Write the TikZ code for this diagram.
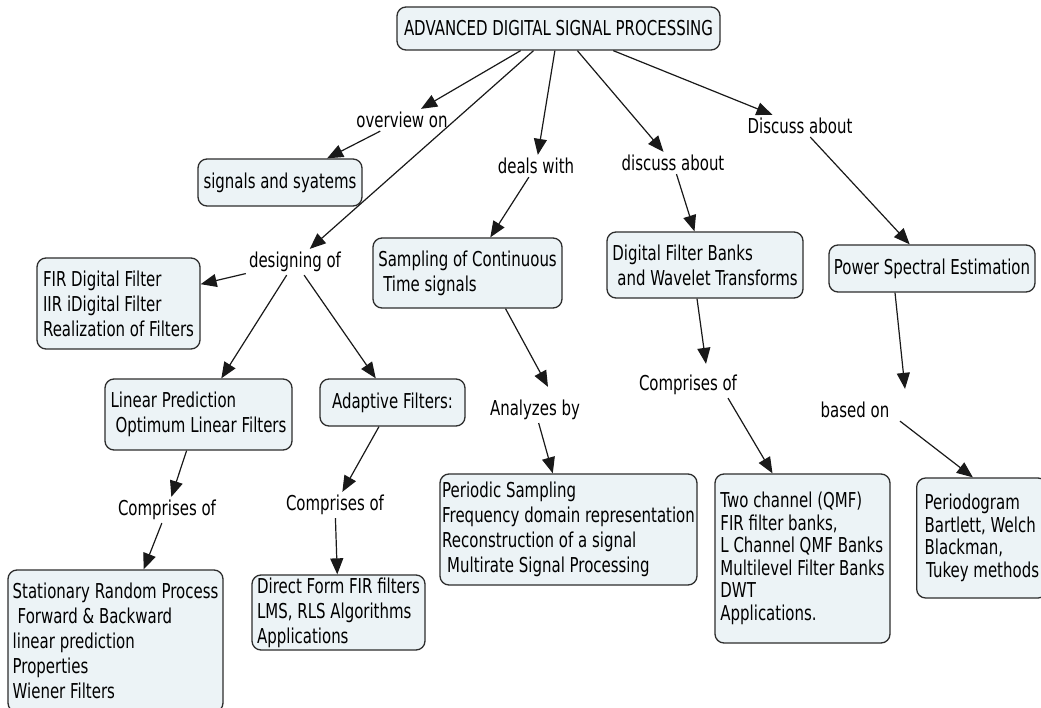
\documentclass[tikz,border=0pt]{standalone}
\usepackage{fontspec}
\setmainfont{DejaVu Sans}[FakeStretch=0.73]
\usetikzlibrary{arrows.meta}
\definecolor{conceptfill}{RGB}{236,243,246}
\definecolor{edgeline}{RGB}{45,45,45}
\begin{document}
\begin{tikzpicture}[x=1pt,y=-1pt,
  concept/.style={draw=edgeline, line width=1.3pt, fill=conceptfill,
    rounded corners=9pt, align=left, inner sep=0pt,
    font=\fontsize{20.5}{25}\selectfont},
  tight/.style={font=\fontsize{20.5}{22.5}\selectfont},
  phrase/.style={inner sep=3pt, font=\fontsize{20.5}{24}\selectfont},
  link/.style={draw=black!90, line width=1.2pt,
    -{Triangle[length=16pt,width=13pt]}}]
\useasboundingbox (0,0) rectangle (1041,708);
\fill[white] (0,0) rectangle (1041,708);

% concepts
\node[concept, align=center, minimum width=323pt, minimum height=43pt] (adsp) at (558.5,28.5)
  {ADVANCED DIGITAL SIGNAL PROCESSING};
\node[concept, minimum width=164pt, minimum height=47pt] (sigsys) at (280,182.5)
  {signals and syatems};
\node[concept, minimum width=163pt, minimum height=91pt] (fir) at (118.5,303.5)
  {FIR Digital Filter\\IIR iDigital Filter\\Realization of Filters};
\node[concept, minimum width=187pt, minimum height=71pt] (linpred) at (198.5,414.5)
  {Linear Prediction\\\hspace*{5pt}Optimum Linear Filters};
\node[concept, minimum width=145pt, minimum height=47pt] (adapt) at (392.5,402.5)
  {Adaptive Filters:};
\node[concept, minimum width=215pt, minimum height=142pt] (statio) at (115.5,641)
  {Stationary Random Process\\\hspace*{5pt}Forward \& Backward\\linear prediction\\Properties\\Wiener Filters};
\node[concept, minimum width=173pt, minimum height=75pt] (direct) at (338.5,612.5)
  {Direct Form FIR filters\\LMS, RLS Algorithms\\Applications};
\node[concept, minimum width=189pt, minimum height=70pt] (sampling) at (467.5,273)
  {Sampling of Continuous\\\hspace*{5pt}Time signals};
\node[concept, minimum width=257pt, minimum height=111pt] (periodic) at (568.5,529.5)
  {Periodic Sampling\\Frequency domain representation\\Reconstruction of a signal\\\hspace*{5pt}Multirate Signal Processing};
\node[concept, minimum width=196pt, minimum height=66pt] (fbank) at (705,265)
  {Digital Filter Banks\\\hspace*{5pt}and Wavelet Transforms};
\node[concept, tight, minimum width=175pt, minimum height=169pt] (qmf) at (802.5,558.5)
  {Two channel (QMF)\\FIR filter banks,\\L Channel QMF Banks\\Multilevel Filter Banks\\DWT\\Applications.};
\node[concept, minimum width=206pt, minimum height=47pt] (pse) at (932,268.5)
  {Power Spectral Estimation};
\node[concept, tight, anchor=west, inner xsep=8pt, minimum height=120pt] (pgram) at (916,538)
  {Periodogram\\Bartlett, Welch\\Blackman,\\\hspace*{1.5pt}Tukey methods};

% linking phrases
\node[phrase] (ov) at (402,120) {overview on};
\node[phrase] (des) at (295,262) {designing of};
\node[phrase] (deals) at (536,166) {deals with};
\node[phrase] (disc) at (673,163) {discuss about};
\node[phrase] (Disc) at (800,126) {Discuss about};
\node[phrase] (compL) at (167,510) {Comprises of};
\node[phrase] (compR) at (335,505) {Comprises of};
\node[phrase] (anal) at (535,410) {Analyzes by};
\node[phrase] (compM) at (688,385) {Comprises of};
\node[phrase] (based) at (855,410) {based on};

% connectors
\draw[link] (adsp) -- (ov);
\draw[link] (adsp) -- (des);
\draw[link] (adsp) -- (deals);
\draw[link] (adsp) -- (disc);
\draw[link] (adsp) -- (Disc);
\draw[link] (ov) -- (sigsys);
\draw[link] (des) -- (fir);
\draw[link] (des) -- (linpred);
\draw[link] (des) -- (adapt);
\draw[link] (linpred) -- (compL);
\draw[link] (compL) -- (statio);
\draw[link] (adapt) -- (compR);
\draw[link] (compR) -- (direct);
\draw[link] (deals) -- (sampling);
\draw[link] ([xshift=38pt]sampling.south) -- ([xshift=13pt,yshift=10pt]anal.north);
\draw[link] (anal) -- (periodic);
\draw[link] (disc) -- (fbank);
\draw[link] ([xshift=-8pt]fbank.south) -- ([xshift=18pt,yshift=8pt]compM.north);
\draw[link] ([xshift=40pt]compM.south) -- ([xshift=-30pt]qmf.north);
\draw[link] (Disc) -- (pse);
\draw[link] ([xshift=-37pt]pse.south) -- ([xshift=50pt,yshift=10pt]based.north);
\draw[link] ([xshift=45pt]based.south) -- ([xshift=-9pt]pgram.north);
\end{tikzpicture}
\end{document}
